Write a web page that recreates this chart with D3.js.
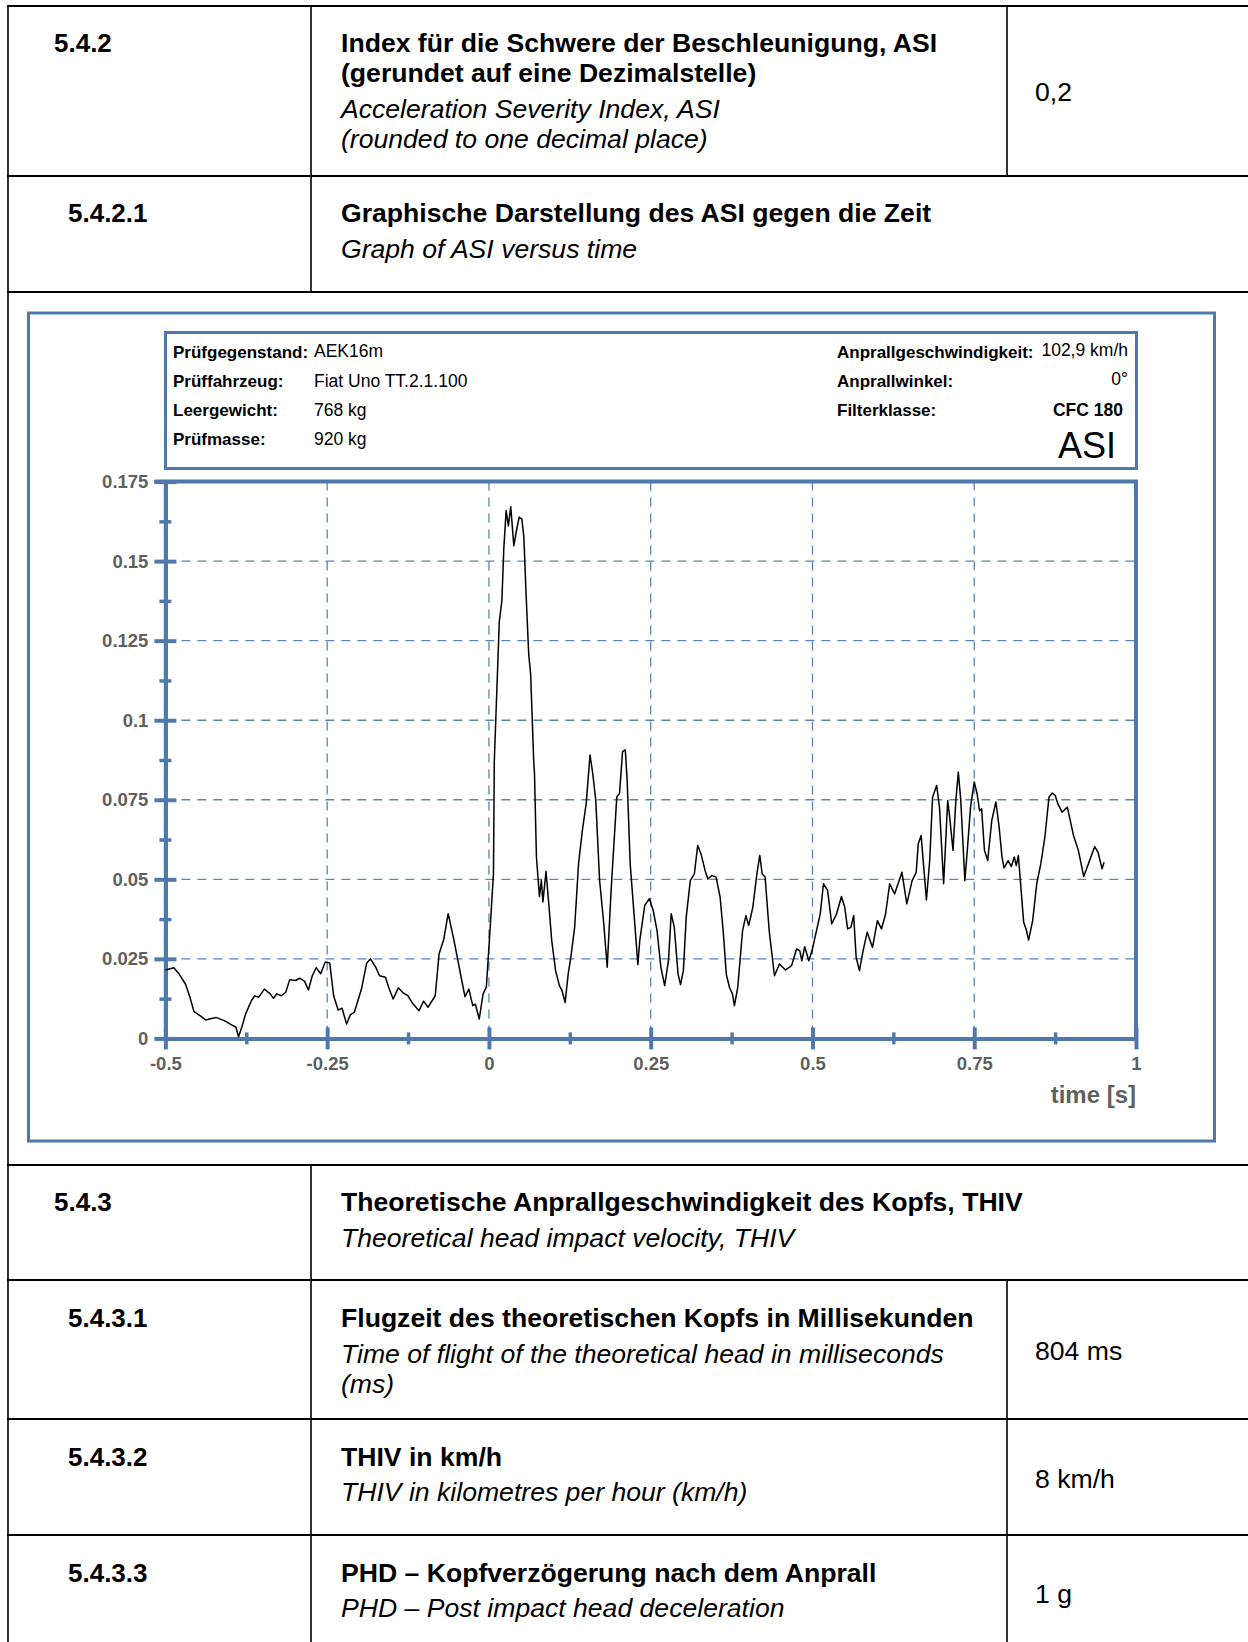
<!DOCTYPE html>
<html>
<head>
<meta charset="utf-8">
<script src="https://cdn.jsdelivr.net/npm/d3@7"></script>
<style>
  body { margin: 0; background: #fff; }
  text { font-family: "Liberation Sans", Arial, sans-serif; }
</style>
</head>
<body>
<script>
const timeS = [
  -0.500, -0.487, -0.479, -0.469, -0.462, -0.456, -0.446, -0.438, -0.422, -0.409,
  -0.397, -0.391, -0.387, -0.382, -0.376, -0.367, -0.362, -0.356, -0.347, -0.338,
  -0.333, -0.328, -0.321, -0.314, -0.308, -0.299, -0.292, -0.285, -0.279, -0.273,
  -0.267, -0.260, -0.253, -0.246, -0.240, -0.233, -0.227, -0.220, -0.214, -0.208,
  -0.197, -0.189, -0.183, -0.175, -0.169, -0.160, -0.154, -0.148, -0.140, -0.132,
  -0.125, -0.119, -0.108, -0.101, -0.094, -0.083, -0.077, -0.070, -0.063, -0.055,
  -0.048, -0.042, -0.037, -0.031, -0.025, -0.021, -0.015, -0.009, -0.004, 0.002,
  0.007, 0.0083, 0.016, 0.020, 0.023, 0.0266, 0.030, 0.0337, 0.0385, 0.042,
  0.0467, 0.0509, 0.054, 0.0574, 0.0615, 0.0645, 0.0692, 0.0704, 0.0734, 0.0781,
  0.081, 0.0834, 0.0882, 0.0929, 0.097, 0.103, 0.1089, 0.113, 0.1178, 0.1225,
  0.1266, 0.1325, 0.1385, 0.1444, 0.1503, 0.1562, 0.1604, 0.1651, 0.171, 0.177,
  0.1828, 0.1888, 0.1976, 0.2018, 0.2065, 0.2107, 0.2136, 0.2183, 0.2254, 0.2302,
  0.2331, 0.2408, 0.2479, 0.2539, 0.2598, 0.2657, 0.2716, 0.2775, 0.2817, 0.2864,
  0.2923, 0.2961, 0.3005, 0.3049, 0.3112, 0.3175, 0.3226, 0.3277, 0.334, 0.3384,
  0.3447, 0.351, 0.3573, 0.3624, 0.3668, 0.3718, 0.3763, 0.3794, 0.3845, 0.392,
  0.3971, 0.4015, 0.4078, 0.4141, 0.4186, 0.4223, 0.4268, 0.4331, 0.4413, 0.4489,
  0.4583, 0.4678, 0.4754, 0.4804, 0.4836, 0.488, 0.4943, 0.4994, 0.5057, 0.512,
  0.517, 0.5234, 0.5297, 0.5372, 0.5448, 0.5499, 0.5543, 0.5593, 0.5637, 0.5675,
  0.5726, 0.5783, 0.5846, 0.5928, 0.6004, 0.6067, 0.613, 0.6193, 0.6269, 0.6383,
  0.6458, 0.654, 0.6603, 0.6635, 0.6679, 0.6711, 0.6761, 0.6812, 0.6856, 0.6919,
  0.6963, 0.7027, 0.709, 0.7121, 0.7172, 0.7216, 0.7254, 0.7292, 0.7355, 0.7393,
  0.7443, 0.75, 0.7544, 0.7582, 0.7614, 0.7658, 0.7708, 0.7771, 0.7835, 0.7885,
  0.7929, 0.7961, 0.8024, 0.8074, 0.8119, 0.815, 0.8182, 0.8213, 0.8264, 0.8308,
  0.834, 0.8403, 0.8466, 0.8529, 0.8592, 0.8655, 0.8706, 0.875, 0.8794, 0.8857,
  0.8939, 0.9034, 0.9109, 0.9192, 0.9274, 0.9362, 0.9413, 0.9476, 0.9507
];
const asiValues = [
  0.0215, 0.0222, 0.0203, 0.0171, 0.0129, 0.0085, 0.0071, 0.0058, 0.0066, 0.0056,
  0.0042, 0.0035, 0.0005, 0.0035, 0.0077, 0.0119, 0.0134, 0.0129, 0.0155, 0.0140,
  0.0126, 0.0140, 0.0134, 0.0145, 0.0184, 0.0182, 0.0189, 0.0180, 0.0152, 0.0197,
  0.0222, 0.0203, 0.0240, 0.0237, 0.0134, 0.0089, 0.0095, 0.0045, 0.0075, 0.0082,
  0.0155, 0.0236, 0.0250, 0.0224, 0.0197, 0.0192, 0.0155, 0.0124, 0.0159, 0.0142,
  0.0134, 0.0113, 0.0087, 0.0117, 0.0098, 0.0134, 0.0266, 0.0310, 0.0392, 0.0318,
  0.0245, 0.0182, 0.0131, 0.0155, 0.0103, 0.0108, 0.0061, 0.0140, 0.0161, 0.0350,
  0.0518, 0.0871, 0.1310, 0.1375, 0.1540, 0.1659, 0.1611, 0.1671, 0.1548, 0.1590,
  0.1638, 0.1632, 0.1575, 0.1396, 0.1207, 0.1144, 0.0871, 0.0833, 0.0570, 0.0446,
  0.0497, 0.0429, 0.0525, 0.0413, 0.0308, 0.0213, 0.0166, 0.0150, 0.0113, 0.0203,
  0.0255, 0.0350, 0.0549, 0.0654, 0.0738, 0.0891, 0.0833, 0.0749, 0.0497, 0.0371,
  0.0224, 0.0465, 0.0759, 0.0770, 0.0901, 0.0907, 0.0812, 0.0549, 0.0360, 0.0232,
  0.0308, 0.0418, 0.0439, 0.0402, 0.0339, 0.0224, 0.0166, 0.0245, 0.0392, 0.0350,
  0.0202, 0.0169, 0.0213, 0.0381, 0.0496, 0.0517, 0.0606, 0.0580, 0.0528, 0.0501,
  0.0512, 0.0507, 0.0444, 0.0328, 0.0202, 0.0160, 0.0140, 0.0103, 0.0160, 0.0339,
  0.0386, 0.0355, 0.0412, 0.0517, 0.0575, 0.0517, 0.0507, 0.0339, 0.0197, 0.0234,
  0.0215, 0.0229, 0.0281, 0.0276, 0.0244, 0.0288, 0.0244, 0.0276, 0.0334, 0.0391,
  0.0486, 0.0465, 0.0360, 0.0391, 0.0446, 0.0412, 0.0344, 0.0349, 0.0386, 0.0255,
  0.0213, 0.0276, 0.0334, 0.0286, 0.0370, 0.0344, 0.0391, 0.0486, 0.0454, 0.0522,
  0.0423, 0.0496, 0.0522, 0.0612, 0.0638, 0.0559, 0.0435, 0.0559, 0.0758, 0.0795,
  0.0727, 0.0486, 0.0748, 0.0695, 0.0591, 0.0748, 0.0837, 0.0748, 0.0496, 0.0591,
  0.0727, 0.0806, 0.0769, 0.0716, 0.0722, 0.0591, 0.0559, 0.0685, 0.0743, 0.0664,
  0.0570, 0.0536, 0.0559, 0.0540, 0.0570, 0.0543, 0.0575, 0.0496, 0.0365, 0.0339,
  0.0309, 0.0370, 0.0486, 0.0549, 0.0633, 0.0758, 0.0771, 0.0764, 0.0737, 0.0711,
  0.0727, 0.0638, 0.0591, 0.0509, 0.0554, 0.0603, 0.0585, 0.0533, 0.0554
];

const xMajor = [-0.5, -0.25, 0, 0.25, 0.5, 0.75, 1];
const xMinor = [-0.375, -0.125, 0.125, 0.375, 0.625, 0.875];
const yMajor = [0, 0.025, 0.05, 0.075, 0.1, 0.125, 0.15, 0.175];
const yMinor = [0.0125, 0.0375, 0.0625, 0.0875, 0.1125, 0.1375, 0.1625];
const xGrid = [-0.25, 0, 0.25, 0.5, 0.75];
const yGrid = [0.025, 0.05, 0.075, 0.1, 0.125, 0.15];

const headerLeft = [
  ["Prüfgegenstand:", "AEK16m"],
  ["Prüffahrzeug:", "Fiat Uno TT.2.1.100"],
  ["Leergewicht:", "768 kg"],
  ["Prüfmasse:", "920 kg"]
];
const headerRight = [
  ["Anprallgeschwindigkeit:", "102,9 km/h", false],
  ["Anprallwinkel:", "0°", false],
  ["Filterklasse:", "CFC 180", true]
];

// table rows of the report: number, bold lines, italic lines, value
const tableRows = [
  { num: "5.4.2", numX: 54, base: 52, bold: ["Index für die Schwere der Beschleunigung, ASI", "(gerundet auf eine Dezimalstelle)"],
    italic: ["Acceleration Severity Index, ASI", "(rounded to one decimal place)"], italicBase: 118, value: "0,2", valueBase: 101 },
  { num: "5.4.2.1", numX: 68, base: 222, bold: ["Graphische Darstellung des ASI gegen die Zeit"],
    italic: ["Graph of ASI versus time"], italicBase: 258 },
  { num: "5.4.3", numX: 54, base: 1211, bold: ["Theoretische Anprallgeschwindigkeit des Kopfs, THIV"],
    italic: ["Theoretical head impact velocity, THIV"], italicBase: 1247 },
  { num: "5.4.3.1", numX: 68, base: 1327, bold: ["Flugzeit des theoretischen Kopfs in Millisekunden"],
    italic: ["Time of flight of the theoretical head in milliseconds", "(ms)"], italicBase: 1363, value: "804 ms", valueBase: 1360 },
  { num: "5.4.3.2", numX: 68, base: 1466, bold: ["THIV in km/h"],
    italic: ["THIV in kilometres per hour (km/h)"], italicBase: 1501, value: "8 km/h", valueBase: 1488 },
  { num: "5.4.3.3", numX: 68, base: 1582, bold: ["PHD – Kopfverzögerung nach dem Anprall"],
    italic: ["PHD – Post impact head deceleration"], italicBase: 1617, value: "1 g", valueBase: 1603 }
];

const W = 1248, H = 1642;
const blue = "#4f79ad";
const grey = "#5f5f5f";

const svg = d3.select("body").append("svg")
  .attr("width", W).attr("height", H);

// ---- table frame
const hLines = [6, 176, 292, 1165, 1280, 1419, 1535];
svg.selectAll("line.h").data(hLines).enter().append("line")
  .attr("x1", 7).attr("x2", W).attr("y1", d => d).attr("y2", d => d)
  .attr("stroke", "#000").attr("stroke-width", 2.2);
const vLines = [[8, 5, H], [311, 5, 292], [311, 1164, H], [1007, 5, 176], [1007, 1279, H]];
svg.selectAll("line.v").data(vLines).enter().append("line")
  .attr("x1", d => d[0]).attr("x2", d => d[0]).attr("y1", d => d[1]).attr("y2", d => d[2])
  .attr("stroke", "#000").attr("stroke-width", 1.6);

const fs = 26.6;
tableRows.forEach(r => {
  svg.append("text").attr("x", r.numX).attr("y", r.base)
    .attr("font-weight", "bold").attr("font-size", 26).text(r.num);
  r.bold.forEach((t, i) => {
    svg.append("text").attr("x", 341).attr("y", r.base + i * 30)
      .attr("font-weight", "bold").attr("font-size", fs).text(t);
  });
  r.italic.forEach((t, i) => {
    svg.append("text").attr("x", 341).attr("y", r.italicBase + i * 30)
      .attr("font-style", "italic").attr("font-size", fs).text(t);
  });
  if (r.value) {
    svg.append("text").attr("x", 1035).attr("y", r.valueBase)
      .attr("font-size", fs).text(r.value);
  }
});

// ---- chart frame and header box
svg.append("rect").attr("x", 28.5).attr("y", 313).attr("width", 1186).attr("height", 828)
  .attr("fill", "none").attr("stroke", blue).attr("stroke-width", 3);
svg.append("rect").attr("x", 165.5).attr("y", 332.5).attr("width", 971).attr("height", 136)
  .attr("fill", "none").attr("stroke", blue).attr("stroke-width", 3);

const headRows = [358, 387, 416, 445];
headerLeft.forEach((d, i) => {
  svg.append("text").attr("x", 173).attr("y", headRows[i])
    .attr("font-weight", "bold").attr("font-size", 17).text(d[0]);
  svg.append("text").attr("x", 314).attr("y", headRows[i] - (i === 0 ? 1 : 0))
    .attr("font-size", 17.5).text(d[1]);
});
headerRight.forEach((d, i) => {
  svg.append("text").attr("x", 837).attr("y", headRows[i])
    .attr("font-weight", "bold").attr("font-size", 17).text(d[0]);
  svg.append("text").attr("x", d[2] ? 1123 : 1128).attr("y", headRows[i] - (i < 2 ? 2 : 0))
    .attr("text-anchor", "end").attr("font-weight", d[2] ? "bold" : "normal")
    .attr("font-size", 17.5).text(d[1]);
});
svg.append("text").attr("x", 1116).attr("y", 458).attr("text-anchor", "end")
  .attr("font-size", 36).text("ASI");

// ---- plot
const x = d3.scaleLinear().domain([-0.5, 1]).range([165.4, 1136]);
const y = d3.scaleLinear().domain([0, 0.175]).range([1038.4, 481.6]);

const grid = svg.append("g").attr("stroke", "#5a83b8").attr("stroke-width", 1.3)
  .attr("stroke-dasharray", "9,7");
grid.selectAll("line.gx").data(xGrid).enter().append("line")
  .attr("x1", d => x(d)).attr("x2", d => x(d)).attr("y1", y(0.175)).attr("y2", y(0));
grid.selectAll("line.gy").data(yGrid).enter().append("line")
  .attr("x1", x(-0.5)).attr("x2", x(1)).attr("y1", d => y(d)).attr("y2", d => y(d));

// top and right edges of the plot
svg.append("path")
  .attr("d", `M${x(-0.5) - 11},${y(0.175)}H${x(1)}V${y(0)}`)
  .attr("fill", "none").attr("stroke", blue).attr("stroke-width", 4);

function styleAxis(g, major, along) {
  g.select(".domain").attr("stroke", blue).attr("stroke-width", 4);
  g.selectAll(".tick line").attr("stroke", blue).attr("stroke-width", major ? 4 : 3.5);
  const half = major ? 11 : 6;
  if (along === "y") g.selectAll(".tick line").attr("x1", -half).attr("x2", half);
  else g.selectAll(".tick line").attr("y1", -half).attr("y2", half);
}

const yAxisMinor = svg.append("g").attr("transform", `translate(${x(-0.5)},0)`)
  .call(d3.axisLeft(y).tickValues(yMinor).tickFormat("").tickSizeOuter(0));
styleAxis(yAxisMinor, false, "y");
const yAxis = svg.append("g").attr("transform", `translate(${x(-0.5)},0)`)
  .call(d3.axisLeft(y).tickValues(yMajor).tickFormat(d => String(d)).tickSizeOuter(0));
styleAxis(yAxis, true, "y");
yAxis.selectAll(".tick text").attr("x", -17).attr("fill", grey)
  .attr("font-size", 18.5).attr("font-weight", "bold")
  .attr("font-family", "'Liberation Sans', Arial, sans-serif");

const xAxisMinor = svg.append("g").attr("transform", `translate(0,${y(0)})`)
  .call(d3.axisBottom(x).tickValues(xMinor).tickFormat("").tickSizeOuter(0));
styleAxis(xAxisMinor, false, "x");
const xAxis = svg.append("g").attr("transform", `translate(0,${y(0)})`)
  .call(d3.axisBottom(x).tickValues(xMajor).tickFormat(d => String(d)).tickSizeOuter(0));
styleAxis(xAxis, true, "x");
xAxis.selectAll(".tick text").attr("y", 32).attr("dy", null).attr("fill", grey)
  .attr("font-size", 18.5).attr("font-weight", "bold")
  .attr("font-family", "'Liberation Sans', Arial, sans-serif");

svg.append("text").attr("x", 1136).attr("y", 1103).attr("text-anchor", "end")
  .attr("fill", grey).attr("font-weight", "bold").attr("font-size", 24).text("time [s]");

// ASI trace
const pts = timeS.map((t, i) => [t, asiValues[i]]);
svg.append("path").datum(pts)
  .attr("fill", "none").attr("stroke", "#000").attr("stroke-width", 1.5)
  .attr("stroke-linejoin", "round")
  .attr("d", d3.line().x(d => x(d[0])).y(d => y(d[1])));
</script>
</body>
</html>
